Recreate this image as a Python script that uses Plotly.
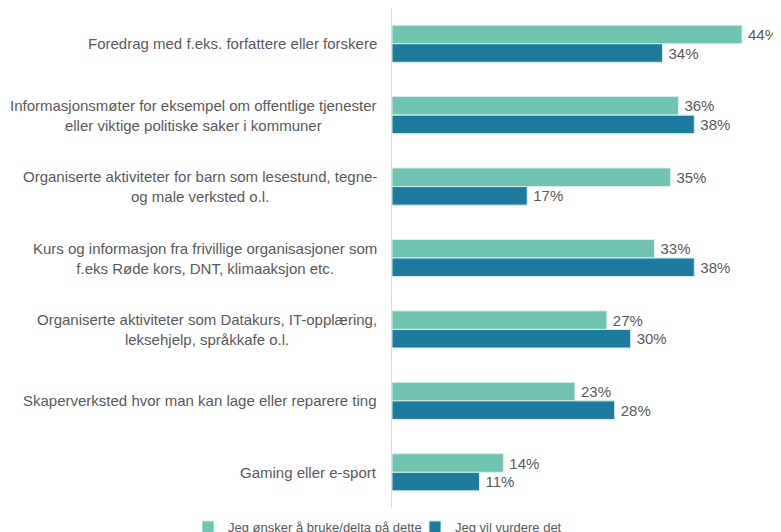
import plotly.graph_objects as go

categories = [
    "Foredrag med f.eks. forfattere eller forskere",
    "Informasjonsmøter for eksempel om offentlige tjenester<br>eller viktige politiske saker i kommuner",
    "Organiserte aktiviteter for barn som lesestund, tegne-<br>og male verksted o.l.",
    "Kurs og informasjon fra frivillige organisasjoner som<br>f.eks Røde kors, DNT, klimaaksjon etc.",
    "Organiserte aktiviteter som Datakurs, IT-opplæring,<br>leksehjelp, språkkafe o.l.",
    "Skaperverksted hvor man kan lage eller reparere ting",
    "Gaming eller e-sport",
]
series_names = ["Jeg ønsker å bruke/delta på dette", "Jeg vil vurdere det"]
want = [44, 36, 35, 33, 27, 23, 14]
consider = [34, 38, 17, 38, 30, 28, 11]
colors = ["#70C4B2", "#1E7BA0"]

# page has an 8px body margin, so the figure is 773x524
W, H = 773, 524
ML, MR, MT, MB = 384, 0, 0, 24
FONT = "Liberation Sans, Arial"

fig = go.Figure()
for name, vals, col in zip(series_names, [want, consider], colors):
    fig.add_trace(go.Bar(
        y=categories, x=vals, name=name, orientation="h",
        marker=dict(color=col, line=dict(color="#DDEFEA", width=1)),
        text=vals, texttemplate="\u2009%{x}%", textposition="outside",
        constraintext="none",
        textfont=dict(size=15, color="#595959", family=FONT),
        cliponaxis=False,
    ))

for c in categories:
    fig.add_annotation(
        x=0, xref="paper", y=c, yref="y", xanchor="right", yanchor="middle",
        xshift=-13, text=c, showarrow=False, align="center",
        font=dict(size=15, color="#595959", family=FONT),
    )

fig.update_layout(
    width=W, height=H,
    margin=dict(l=ML, r=MR, t=MT, b=MB, autoexpand=False),
    barmode="group", bargap=0.48, bargroupgap=0,
    plot_bgcolor="white", paper_bgcolor="white",
    font=dict(family=FONT, size=15, color="#595959"),
    xaxis=dict(range=[0, 48.9], visible=False, showgrid=False, zeroline=False),
    yaxis=dict(autorange="reversed", showticklabels=False, ticks="",
               showline=True, linecolor="#D9D9D9", linewidth=1,
               showgrid=False, zeroline=False),
    legend=dict(orientation="h", x=(180 - ML) / (W - ML - MR), xanchor="left",
                y=-0.008, yanchor="top", font=dict(size=13, color="#595959"),
                itemwidth=30, entrywidth=182, entrywidthmode="pixels",
                traceorder="normal"),
    showlegend=True,
)

fig.write_html("out.html")
